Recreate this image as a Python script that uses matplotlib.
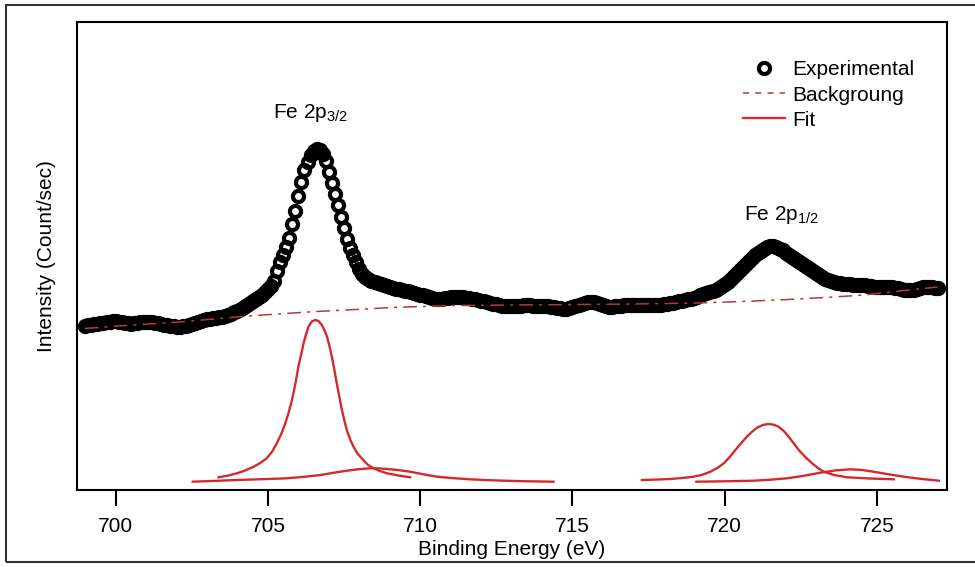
"""Fe 2p XPS spectrum with background and fitted components."""

import numpy as np
import matplotlib

matplotlib.use("Agg")
import matplotlib.pyplot as plt
from matplotlib.lines import Line2D
from matplotlib.patches import Rectangle

plt.rcParams["font.family"] = ["Liberation Sans", "DejaVu Sans"]
plt.rcParams["mathtext.default"] = "regular"

# scan grid, 0.1 eV step
energy = np.round(np.arange(699.0, 727.05, 0.1), 1)

# measured intensity (arb. units), one row per eV
counts = [
    161.5,
    162, 162.5, 163, 163.5, 164, 164.5, 165, 165.5, 166, 166,
    165.5, 165, 164.5, 164, 163.5, 164, 164.5, 165, 165.5, 165.5,
    165.5, 165, 164.5, 164, 163, 162.5, 162, 161.5, 161, 160.5,
    160.5, 161, 161.5, 162.5, 163.5, 164, 165, 166, 167, 168,
    168.5, 169, 169.5, 170, 170.5, 171, 172, 173.5, 175, 176.5,
    178, 180, 182, 184, 186, 188, 190, 192.5, 195, 198,
    201.5, 206.5, 216, 225, 232, 240, 249, 263, 276, 291,
    305, 317, 325, 332, 336, 338, 337, 333, 326, 315,
    304, 293, 282, 270, 259, 248, 239, 232, 225, 218,
    213, 210, 208, 206.5, 205, 204, 203, 202, 201, 200,
    199, 198.5, 198, 197, 196.5, 196, 195, 194, 193, 192.5,
    192, 191, 190, 189, 188.5, 188.5, 188.5, 189, 189.5, 190,
    190.5, 190.5, 190.5, 190, 189.5, 189, 188.5, 188, 187.5, 186.5,
    186, 185, 184.5, 183.5, 183, 182, 181.5, 181.5, 181.5, 181.5,
    181.5, 181.5, 181.5, 182, 182, 182, 181.5, 181.5, 181.5, 181.5,
    181.5, 181, 180.5, 180, 179.5, 179, 178.5, 178.5, 179, 180,
    181, 182, 183, 184, 185, 185.5, 185, 184, 183, 182,
    181, 180.5, 180.5, 181, 181.5, 181.5, 182, 182, 182, 182,
    182, 182, 182, 182, 182, 182, 182, 182, 182.5, 183,
    183.5, 184, 184.5, 185, 186, 186.5, 187, 188, 188.5, 189.5,
    190.5, 192, 193, 194, 195, 196, 197, 199, 201, 203,
    205, 208, 211, 214, 217, 220, 223, 226, 229, 232,
    234.5, 236.5, 238.5, 240, 241, 241, 240, 238.5, 237, 234.5,
    232.5, 230.5, 228.5, 226, 224, 222, 220, 218, 216, 214,
    212, 210, 208, 207, 206, 205, 204.5, 204, 203.5, 203,
    203, 202.5, 202.5, 202, 202, 202, 201.5, 201, 200.5, 200.5,
    200, 200, 200, 200, 200, 199.5, 199, 198, 197.5, 197,
    197, 197.5, 198, 199, 200, 200.5, 200.5, 200, 199.5, 199,
]

# Shirley background
bg_x = [698.98, 700.08, 702.08, 703.98, 704.58, 705.58, 706.58, 707.58,
        709.08, 711.08, 713.08, 715.08, 717.08, 719.08, 720.58, 722.08,
        723.58, 724.58, 725.58, 726.98]
bg_y = [158.5, 161, 165, 170, 171.5, 173.5, 175.5, 177, 179.5, 181.5,
        182, 182.5, 183, 184, 185.5, 187.5, 190, 192, 195.5, 200]

# fitted components
fit1_x = [703.38, 703.70, 703.98, 704.25, 704.53, 704.75, 704.96, 705.13,
          705.29, 705.43, 705.57, 705.68, 705.79, 705.90, 706.00, 706.09,
          706.17, 706.25, 706.33, 706.44, 706.55, 706.66, 706.77, 706.86,
          706.94, 707.02, 707.10, 707.18, 707.26, 707.35, 707.43, 707.51,
          707.59, 707.70, 707.81, 707.94, 708.08, 708.27, 708.47, 708.69,
          708.91, 709.30, 709.67]
fit1_y = [9.7, 11.5, 13.7, 16.5, 20.3, 24, 28.7, 35, 43.7, 52.5, 63.7,
          74.5, 87, 103, 120.3, 132.5, 143.7, 152.5, 160.3, 165.5, 167,
          166, 162, 156.5, 150.3, 141, 130.3, 117.5, 103.7, 89.5, 77, 66.5,
          57, 47.5, 40.3, 33.5, 28.7, 22.5, 18.7, 15.8, 13.7, 11.4, 9.7]
fit2_x = [702.53, 703.25, 703.98, 704.80, 705.62, 706.20, 706.72, 707.15,
          707.59, 707.98, 708.36, 708.64, 708.91, 709.29, 709.67, 710.10,
          710.55, 711.10, 711.64, 712.19, 712.74, 713.56, 714.38]
fit2_y = [5.3, 6.1, 7, 7.8, 8.7, 10.2, 12, 14.2, 16.3, 17.8, 18.7, 18.6,
          18, 16.9, 15.3, 12.7, 10.3, 8.8, 7.7, 6.9, 6.3, 5.7, 5.3]
fit3_x = [717.28, 717.75, 718.21, 718.60, 718.98, 719.27, 719.53, 719.76,
          719.97, 720.16, 720.35, 720.54, 720.73, 720.90, 721.06, 721.25,
          721.44, 721.60, 721.77, 721.94, 722.10, 722.29, 722.48, 722.68,
          722.87, 723.06, 723.25, 723.62, 724.02, 724.78, 725.55]
fit3_y = [7, 7.4, 8, 9, 10.3, 12.3, 15.3, 19, 23.7, 29.8, 37, 43.8, 50.3,
          55.3, 59.3, 62, 63, 62.4, 60.3, 56, 50.3, 42.7, 35.3, 29, 23.7,
          19, 15.3, 11.8, 9.7, 8.5, 7.7]
fit4_x = [719.07, 720.01, 720.95, 721.50, 722.05, 722.60, 723.14, 723.64,
          724.13, 724.51, 724.89, 725.38, 725.88, 726.45, 727.03]
fit4_y = [5.3, 5.7, 6.3, 7.3, 8.7, 11.2, 14.3, 16.6, 17.7, 17, 15.3, 12.7,
          10.3, 8.1, 6.3]

xticks = [700, 705, 710, 715, 720, 725]

FIT_COLOR = "#d42a2e"
BG_COLOR = "#b53a36"
BG_STYLE = (0, (9, 4, 2, 4))

fig = plt.figure(figsize=(9.75, 5.67), dpi=100)
ax = fig.add_axes([77 / 975, 77 / 567, 870 / 975, 468 / 567])

ax.plot(energy, counts, "o", mfc="none", mec="black", ms=8, mew=3,
        zorder=2)
ax.plot(bg_x, bg_y, color=BG_COLOR, ls=BG_STYLE, lw=1.1, zorder=3)
for fx, fy in [(fit1_x, fit1_y), (fit2_x, fit2_y),
               (fit3_x, fit3_y), (fit4_x, fit4_y)]:
    ax.plot(fx, fy, color=FIT_COLOR, lw=1.7, zorder=3)

ax.text(706.41, 369, r"Fe 2p$_{3/2}$", ha="center", va="baseline",
        fontsize=15)
ax.text(721.86, 267, r"Fe 2p$_{1/2}$", ha="center", va="baseline",
        fontsize=15)

ax.set_xlim(698.73, 727.30)
ax.set_ylim(-3, 465)
ax.set_xticks(xticks)
ax.set_yticks([])
ax.tick_params(axis="x", direction="out", length=11.5, width=1.5, pad=8,
               labelsize=15)
for sp in ax.spines.values():
    sp.set_linewidth(1.5)
ax.set_xlabel("Binding Energy (eV)", fontsize=15, labelpad=3)
ax.set_ylabel("Intensity (Count/sec)", fontsize=15, labelpad=15)

handles = [
    Line2D([], [], marker="o", ls="none", mfc="none", mec="black",
           ms=8, mew=3),
    Line2D([], [], color=BG_COLOR, ls=(0, (4, 4)), lw=1.1),
    Line2D([], [], color=FIT_COLOR, lw=1.7),
]
ax.legend(handles, ["Experimental", "Backgroung", "Fit"], loc="upper left",
          bbox_to_anchor=(0.756, 0.936), frameon=False, fontsize=15,
          handlelength=2.0, handletextpad=0.37, labelspacing=0.3,
          borderaxespad=0)

fig.add_artist(Rectangle((6 / 975, 5 / 567), 1.0, 557 / 567,
                         transform=fig.transFigure, fill=False, lw=1.5,
                         ec="#333333"))

fig.savefig("out.png", dpi=100)
